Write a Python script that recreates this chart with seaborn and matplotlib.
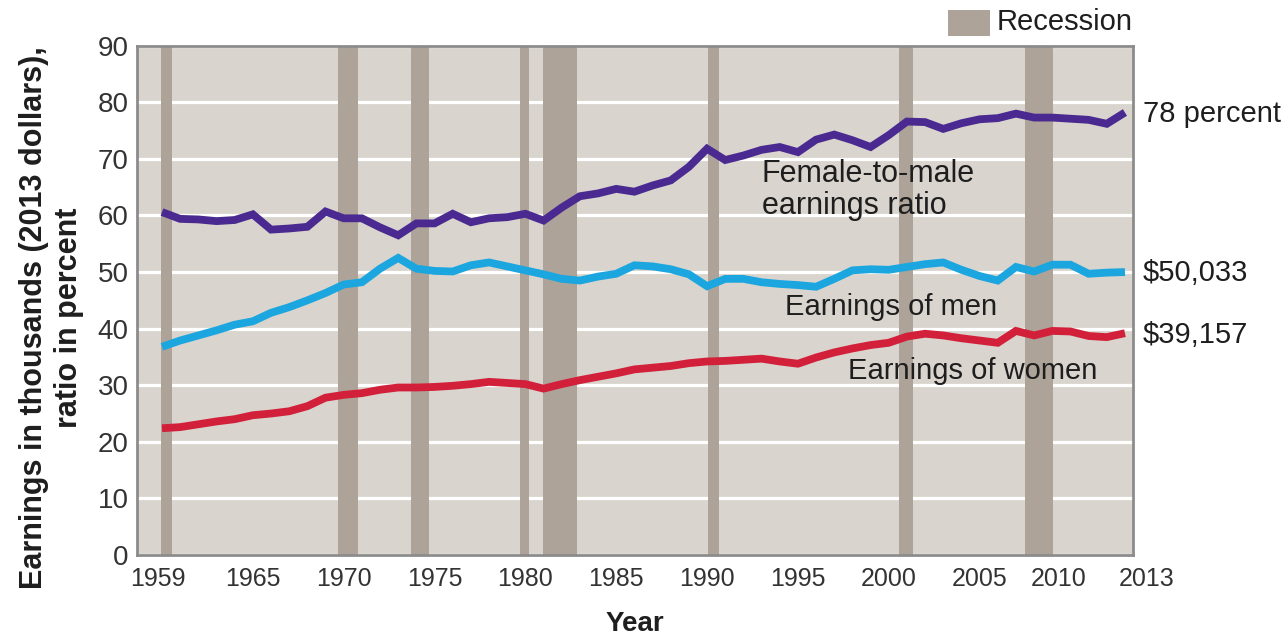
import matplotlib
matplotlib.use("Agg")
import matplotlib.pyplot as plt
import matplotlib.transforms as mtransforms
import seaborn as sns
import pandas as pd
from matplotlib.patches import Rectangle

# ---------------- data ----------------
years = list(range(1960, 2014))

ratio = [60.6, 59.4, 59.3, 59.0, 59.2, 60.2, 57.5, 57.7, 58.0, 60.7,
         59.5, 59.5, 57.9, 56.5, 58.6, 58.6, 60.3, 58.8, 59.5, 59.7,
         60.3, 59.1, 61.4, 63.4, 63.9, 64.7, 64.2, 65.3, 66.2, 68.6,
         71.8, 69.8, 70.6, 71.6, 72.1, 71.2, 73.4, 74.3, 73.3, 72.1,
         74.2, 76.6, 76.5, 75.3, 76.3, 77.0, 77.2, 78.0, 77.3, 77.3,
         77.1, 76.9, 76.2, 78.2]

men = [36.8, 37.9, 38.8, 39.7, 40.7, 41.3, 42.8, 43.8, 45.0, 46.3,
       47.8, 48.2, 50.6, 52.5, 50.6, 50.2, 50.1, 51.2, 51.7, 51.0,
       50.3, 49.6, 48.8, 48.5, 49.2, 49.7, 51.2, 51.0, 50.5, 49.6,
       47.5, 48.8, 48.8, 48.2, 47.9, 47.7, 47.4, 48.8, 50.3, 50.5,
       50.4, 50.9, 51.4, 51.7, 50.4, 49.3, 48.5, 50.9, 50.1, 51.3,
       51.3, 49.7, 49.9, 50.0]

women = [22.4, 22.6, 23.1, 23.6, 24.0, 24.7, 25.0, 25.4, 26.3, 27.8,
         28.3, 28.6, 29.2, 29.6, 29.6, 29.7, 29.9, 30.2, 30.6, 30.4,
         30.2, 29.4, 30.2, 30.9, 31.5, 32.1, 32.8, 33.1, 33.4, 33.9,
         34.2, 34.3, 34.5, 34.7, 34.2, 33.8, 34.9, 35.8, 36.5, 37.1,
         37.5, 38.6, 39.1, 38.8, 38.3, 37.9, 37.5, 39.6, 38.8, 39.6,
         39.5, 38.7, 38.5, 39.2]

recession_start = [1959.95, 1969.67, 1973.70, 1979.70, 1980.97, 1990.05, 2000.56, 2007.50]
recession_end   = [1960.55, 1970.77, 1974.70, 1980.20, 1982.84, 1990.63, 2001.34, 2009.04]

tick_years  = [1959, 1965, 1970, 1975, 1980, 1985, 1990, 1995, 2000, 2005, 2010, 2013]
tick_labels = ["1959", "1965", "1970", "1975", "1980", "1985", "1990", "1995",
               "2000", "2005", "2010", "2013"]
y_ticks = list(range(0, 91, 10))

series_names = ["Female-to-male earnings ratio", "Earnings of men", "Earnings of women"]
end_labels = ["78 percent", "$50,033", "$39,157"]

# ---------------- style ----------------
sns.set_style("white")
plt.rcParams["font.family"] = ["Liberation Sans", "DejaVu Sans"]

colors = {series_names[0]: "#4a2a90",
          series_names[1]: "#1ca6df",
          series_names[2]: "#d2203a"}
bg_color = "#d9d4ce"
rec_color = "#aea398"
text_color = "#1e1e1e"

df = pd.concat([
    pd.DataFrame({"year": years, "value": ratio, "series": series_names[0]}),
    pd.DataFrame({"year": years, "value": men, "series": series_names[1]}),
    pd.DataFrame({"year": years, "value": women, "series": series_names[2]}),
], ignore_index=True)

fig = plt.figure(figsize=(12.87, 6.35), dpi=100)
ax = fig.add_axes([0.1064, 0.126, 0.7739, 0.802])
ax.set_facecolor(bg_color)

# recession shading
for s, e in zip(recession_start, recession_end):
    ax.axvspan(s, e, color=rec_color, lw=0, zorder=1)

sns.lineplot(data=df, x="year", y="value", hue="series", palette=colors,
             hue_order=series_names, linewidth=5.6, legend=False, ax=ax,
             zorder=3)
for line in ax.get_lines():
    line.set_solid_joinstyle("miter")
    line.set_solid_capstyle("butt")

ax.set_xlim(1958.62, 2013.44)
ax.set_ylim(0, 90)
ax.set_yticks(y_ticks)
ax.set_yticklabels([str(v) for v in y_ticks], fontsize=20, color="#333333")
ax.set_xticks(tick_years)
ax.set_xticklabels(tick_labels, fontsize=18, color="#333333")
ax.tick_params(axis="both", length=0)
ax.tick_params(axis="y", pad=6)
ax.tick_params(axis="x", pad=9)

# nudge crowded end labels apart (layout only)
label_nudge_px = {"1959": 14, "2010": -12, "2013": 22}
for lab in ax.get_xticklabels():
    dx = label_nudge_px.get(lab.get_text(), 0)
    if dx:
        lab.set_transform(lab.get_transform() +
                          mtransforms.ScaledTranslation(dx / 100, 0, fig.dpi_scale_trans))

ax.yaxis.grid(True, color="white", linewidth=2.3)
ax.xaxis.grid(False)
ax.set_axisbelow(True)

for sp in ax.spines.values():
    sp.set_color("#8c8c8c")
    sp.set_linewidth(2)

ax.set_xlabel("Year", fontsize=20, fontweight="bold", color=text_color, labelpad=14)
ax.set_ylabel("")
fig.text(0.040, 0.50, "Earnings in thousands (2013 dollars),\nratio in percent",
         rotation=90, ha="center", va="center", multialignment="center",
         fontsize=22, fontweight="bold", color=text_color, linespacing=1.2)

# series annotations inside the plot
ax.text(1993.0, 64.5, "Female-to-male\nearnings ratio", fontsize=22,
        ha="left", va="center", color=text_color, linespacing=1.1, zorder=4)
ax.text(1994.3, 43.9, "Earnings of men", fontsize=21, ha="left", va="center",
        color=text_color, zorder=4)
ax.text(1997.75, 32.6, "Earnings of women", fontsize=21, ha="left", va="center",
        color=text_color, zorder=4)

# end labels
for vals, lab in zip([ratio, men, women], end_labels):
    ax.annotate(lab, xy=(years[-1], vals[-1]), xytext=(13, -1),
                textcoords="offset points", fontsize=21, ha="left",
                va="center", color=text_color, annotation_clip=False)

# legend for recession
W, H = 1287, 635
fig.add_artist(Rectangle((948 / W, 1 - 36 / H), 42 / W, 26 / H,
                         transform=fig.transFigure, color=rec_color, lw=0))
fig.text(997 / W, 1 - 22 / H, "Recession", fontsize=21, ha="left", va="center",
         color=text_color)

fig.savefig("out.png", dpi=100)
